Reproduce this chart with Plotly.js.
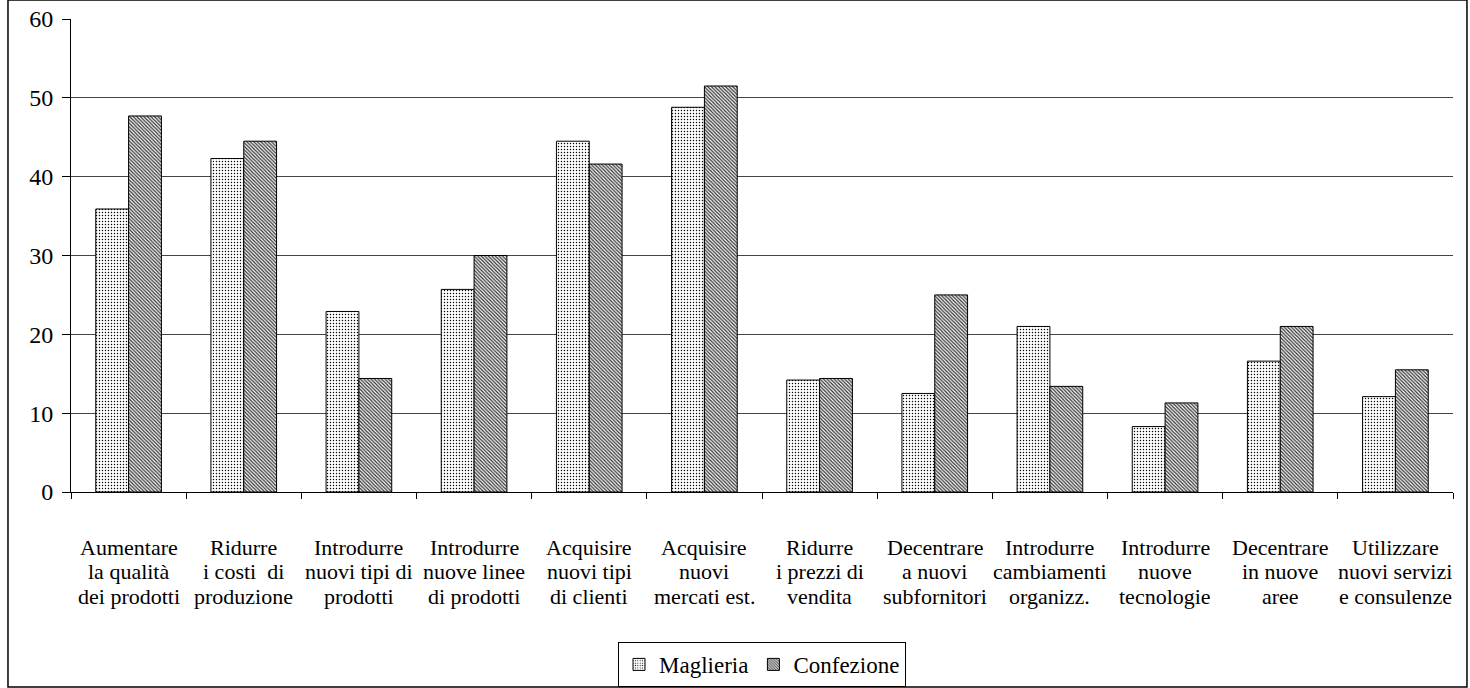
<!DOCTYPE html>
<html>
<head>
<meta charset="utf-8">
<script src="https://cdn.plot.ly/plotly-3.0.1.min.js"></script>
<style>
html,body{margin:0;padding:0;background:#fff;}
#chart{width:1470px;height:688px;}
</style>
</head>
<body>
<div id="chart"></div>
<script>
const categories = [
  "Aumentare<br>la qualità<br>dei prodotti",
  "Ridurre<br>i costi  di<br>produzione",
  "Introdurre<br>nuovi tipi di<br>prodotti",
  "Introdurre<br>nuove linee<br>di prodotti",
  "Acquisire<br>nuovi tipi<br>di clienti",
  "Acquisire<br>nuovi<br>mercati est.",
  "Ridurre<br>i prezzi di<br>vendita",
  "Decentrare<br>a nuovi<br>subfornitori",
  "Introdurre<br>cambiamenti<br>organizz.",
  "Introdurre<br>nuove<br>tecnologie",
  "Decentrare<br>in nuove<br>aree",
  "Utilizzare<br>nuovi servizi<br>e consulenze"
];
const maglieria = [35.9, 42.3, 22.9, 25.7, 44.5, 48.8, 14.2, 12.5, 21.0, 8.3, 16.6, 12.1];
const confezione = [47.7, 44.5, 14.4, 30.0, 41.6, 51.5, 14.4, 25.0, 13.4, 11.3, 21.0, 15.5];
const seriesNames = ["Maglieria", "Confezione"];
const yTicks = [0, 10, 20, 30, 40, 50, 60];

const FONT = "'Liberation Serif', 'Times New Roman', serif";

const traces = [
  {
    type: "bar", name: seriesNames[0], x: categories, y: maglieria,
    marker: {
      color: "white",
      line: {color: "#000", width: 1},
      pattern: {shape: ".", fgcolor: "#000", bgcolor: "white", size: 3, solidity: 0.18}
    }
  },
  {
    type: "bar", name: seriesNames[1], x: categories, y: confezione,
    marker: {
      color: "white",
      line: {color: "#000", width: 1},
      pattern: {shape: "\\", fgcolor: "#333", bgcolor: "white", size: 2.5, solidity: 0.5}
    }
  }
];

// category labels, one annotation per line
const annotations = [];
categories.forEach(function (c) {
  c.split("<br>").forEach(function (line, i) {
    annotations.push({
      x: c, y: 0, xref: "x", yref: "y",
      text: line, showarrow: false,
      xanchor: "center", yanchor: "middle",
      yshift: -(55 + i * 24.5),
      font: {family: FONT, size: 22, color: "#000"}
    });
  });
});

const layout = {
  width: 1470, height: 688,
  margin: {l: 71, r: 17, t: 19, b: 196, autoexpand: false},
  paper_bgcolor: "#fff", plot_bgcolor: "#fff",
  font: {family: FONT, size: 22, color: "#000"},
  barmode: "group",
  bargap: 0.43,
  bargroupgap: 0,
  showlegend: true,
  legend: {
    orientation: "h", x: 0.5, xanchor: "center", y: -0.317, yanchor: "top",
    bordercolor: "#000", borderwidth: 1, bgcolor: "#fff",
    font: {family: FONT, size: 23, color: "#000"},
    itemwidth: 30, tracegroupgap: 0
  },
  xaxis: {
    type: "category",
    showticklabels: false,
    showline: true, linecolor: "#000", linewidth: 1,
    ticks: "outside", tickson: "boundaries", ticklen: 6, tickcolor: "#000",
    showgrid: false, zeroline: false,
    range: [-0.5, categories.length - 0.5]
  },
  yaxis: {
    range: [0, 60],
    tickvals: yTicks,
    ticktext: yTicks.map(String),
    showline: true, linecolor: "#000", linewidth: 1,
    ticks: "outside", ticklen: 8, tickcolor: "#000",
    showgrid: true, gridcolor: "#444", gridwidth: 1,
    zeroline: false,
    tickfont: {family: FONT, size: 24, color: "#000"},
    ticklabelstandoff: 4
  },
  annotations: annotations,
  shapes: [
    {
      type: "rect", xref: "paper", yref: "paper",
      x0: -0.0456, x1: 1.0101, y0: -0.4123, y1: 1.04,
      line: {color: "#000", width: 1.5}, fillcolor: "rgba(0,0,0,0)", layer: "above"
    }
  ]
};

Plotly.newPlot("chart", traces, layout, {displayModeBar: false, staticPlot: true});
</script>
</body>
</html>
